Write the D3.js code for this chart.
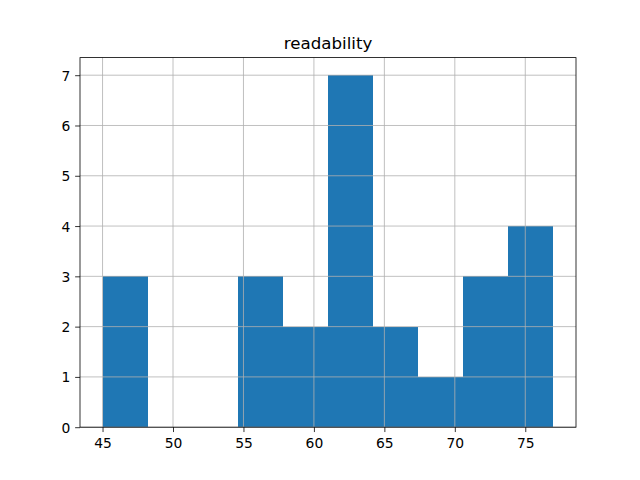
<!DOCTYPE html>
<html>
<head>
<meta charset="utf-8">
<script src="https://cdn.jsdelivr.net/npm/d3@7"></script>
<style>
  body { margin: 0; background: #fff; }
  svg { display: block; font-family: "DejaVu Sans", sans-serif; }
</style>
</head>
<body>
<svg id="chart" width="640" height="480"></svg>
<script>
// Data
const title = "readability";
const binEdges = [45, 48.2, 51.4, 54.6, 57.8, 61, 64.2, 67.4, 70.6, 73.8, 77];
const counts = [3, 0, 0, 3, 2, 7, 2, 1, 3, 4];
const xTicks = [45, 50, 55, 60, 65, 70, 75];
const yTicks = [0, 1, 2, 3, 4, 5, 6, 7];

(function () {
const W = 640, H = 480;
const mLeft = 80, mTop = 57.6, pw = 496, ph = 369.6;
const svg = d3.select("#chart");

const xmin = d3.min(binEdges), xmax = d3.max(binEdges);
const pad = (xmax - xmin) * 0.05;
const x = d3.scaleLinear().domain([xmin - pad, xmax + pad]).range([mLeft, mLeft + pw]);
const ymax = d3.max(counts) * 1.05;
const y = d3.scaleLinear().domain([0, ymax]).range([mTop + ph, mTop]);

svg.append("rect").attr("width", W).attr("height", H).attr("fill", "#fff");

const bins = counts.map((c, i) => ({ x0: binEdges[i], x1: binEdges[i + 1], c }));
svg.append("g").attr("shape-rendering", "crispEdges").selectAll("rect").data(bins).join("rect")
  .attr("x", d => x(d.x0))
  .attr("width", d => x(d.x1) - x(d.x0))
  .attr("y", d => y(d.c))
  .attr("height", d => y(0) - y(d.c))
  .attr("fill", "#1f77b4");

// grid (drawn above bars)
const grid = svg.append("g").attr("stroke", "#b0b0b0").attr("stroke-width", 0.8);
grid.selectAll(".gx").data(xTicks).join("line").attr("class", "gx")
  .attr("x1", d => x(d)).attr("x2", d => x(d))
  .attr("y1", mTop).attr("y2", mTop + ph);
grid.selectAll(".gy").data(yTicks).join("line").attr("class", "gy")
  .attr("y1", d => y(d)).attr("y2", d => y(d))
  .attr("x1", mLeft).attr("x2", mLeft + pw);

const tickLen = 4.86, tickPad = 4.86, fs = 13.89;

const xAxis = svg.append("g").attr("transform", `translate(0,${mTop + ph})`)
  .call(d3.axisBottom(x).tickValues(xTicks).tickSize(tickLen).tickPadding(tickPad).tickFormat(d3.format("d")));
const yAxis = svg.append("g").attr("transform", `translate(${mLeft},0)`)
  .call(d3.axisLeft(y).tickValues(yTicks).tickSize(tickLen).tickPadding(tickPad).tickFormat(d3.format("d")));

[xAxis, yAxis].forEach(g => {
  g.select(".domain").remove();
  g.selectAll(".tick line").attr("stroke", "#000").attr("stroke-width", 0.8);
  g.selectAll(".tick text").attr("fill", "#000").attr("font-size", fs)
    .attr("font-family", "DejaVu Sans, sans-serif");
});
xAxis.selectAll(".tick text").attr("dy", null).attr("y", tickLen + tickPad + 10.6);
yAxis.selectAll(".tick text").attr("dy", null).attr("y", 5.0);

// spines
svg.append("rect")
  .attr("x", mLeft).attr("y", mTop).attr("width", pw).attr("height", ph)
  .attr("fill", "none").attr("stroke", "#000").attr("stroke-width", 0.8);

svg.append("text")
  .attr("x", mLeft + pw / 2).attr("y", mTop - 8.33)
  .attr("text-anchor", "middle")
  .attr("font-size", 16.67)
  .attr("fill", "#000")
  .text(title);
})();
</script>
</body>
</html>
